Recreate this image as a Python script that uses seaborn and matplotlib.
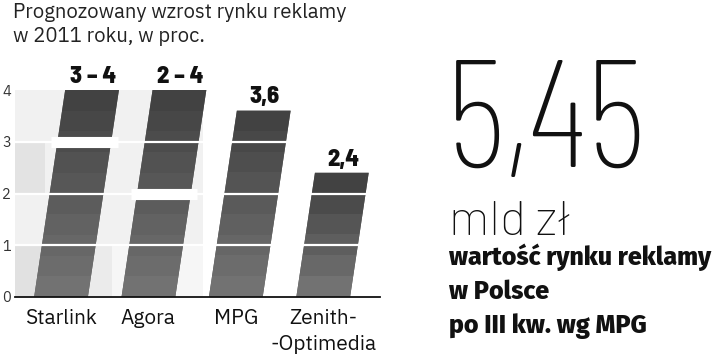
import matplotlib
matplotlib.use("Agg")
import numpy as np
import pandas as pd
import seaborn as sns
import matplotlib.pyplot as plt
from matplotlib.transforms import Affine2D
from matplotlib.patches import Rectangle
from matplotlib.colors import to_rgb

# ---- data ----
categories = ["Starlink", "Agora", "MPG", "Zenith-\n-Optimedia"]
upper = [4.0, 4.0, 3.6, 2.4]
lower = [3.0, 2.0, None, None]
value_labels = ["3 – 4", "2 – 4", "3,6", "2,4"]
yticks = [0, 1, 2, 3, 4]
title = "Prognozowany wzrost rynku reklamy\nw 2011 roku, w proc."
big_number = "5,45"
unit = "mld zł"
caption = "wartość rynku reklamy\nw Polsce\npo III kw. wg MPG"

sns.set_theme(style="white")
LIGHT = ["IBM Plex Sans", "Roboto", "DejaVu Sans"]
COND = ["Barlow Semi Condensed", "Barlow Condensed", "DejaVu Sans"]
THIN = ["Barlow Condensed", "Barlow Semi Condensed", "DejaVu Sans"]
UNITF = ["Barlow", "Barlow Semi Condensed", "DejaVu Sans"]
BOLD = ["Fira Sans", "Open Sans", "DejaVu Sans"]
plt.rcParams["font.family"] = LIGHT

W, H = 720, 356
fig = plt.figure(figsize=(W / 100, H / 100), dpi=100)
fig.patch.set_facecolor("white")

# axes placement (pixels)
ax_l, ax_r, ax_b, ax_t = 15, 380, 297, 90
ax = fig.add_axes([ax_l / W, (H - ax_b) / H, (ax_r - ax_l) / W, (ax_b - ax_t) / H])
ax.set_facecolor("none")

# px -> data x mapping: category spacing ~87.4 px, first center at 61 px
sp, c0 = 87.4, 61
to_dx = lambda px: (px - c0) / sp

df = pd.DataFrame({"firma": categories, "wzrost": upper})
bw = 0.615
sns.barplot(data=df, x="firma", y="wzrost", color="#5a5a5a", width=bw,
            ax=ax, zorder=2, saturation=1)
ax.set_xlim(to_dx(ax_l), to_dx(ax_r))
ax.set_ylim(0, 4)

# shear transform (display space) about the baseline
y0 = ax.transData.transform((0, 0))[1]
k = 0.15
shear = Affine2D().translate(0, -y0).skew(np.arctan(k), 0).translate(0, y0)
skewT = ax.transData + shear

# background decorative panels
bg = [
    (15, 203, 1, 4, "#f1f1f1"),
    (15, 112, 0, 1, "#ebebeb"),
    (112, 203, 0, 1, "#f6f6f6"),
    (15, 45, 2, 3, "#e3e3e3"),
    (15, 45, 0, 1, "#e1e1e1"),
]
for x1, x2, yb, yt, colr in bg:
    ax.add_patch(Rectangle((to_dx(x1), yb), to_dx(x2) - to_dx(x1), yt - yb,
                           facecolor=colr, edgecolor="none", zorder=0.5))

dark = np.array(to_rgb("#424242"))
light = np.array(to_rgb("#727272"))
bars = list(ax.containers[0])
for i, p in enumerate(bars):
    p.set_transform(skewT)
    p.set_edgecolor("none")
    top = p.get_height()
    n = max(2, int(round(top / 0.42)))
    t = np.linspace(0, 1, n)
    arr = (dark[None, :] * (1 - t[:, None]) + light[None, :] * t[:, None])[:, None, :]
    x = p.get_x()
    im = ax.imshow(arr, extent=[x - 0.2, x + p.get_width() + 0.6, 0, top],
                   aspect="auto", interpolation="nearest", zorder=2.1)
    im.set_clip_path(p.get_path(), p.get_transform())

ax.set_xlim(to_dx(ax_l), to_dx(ax_r))
ax.set_ylim(0, 4)

# white gridlines on top of bars
for yv in yticks[1:-1]:
    ax.axhline(yv, color="white", lw=1.6, zorder=3)

# range markers (lower bound)
ext = 6.5 / sp
for i, lo in enumerate(lower):
    if lo is not None:
        ax.plot([i - bw / 2 - ext, i + bw / 2 + ext], [lo, lo], color="white",
                lw=8, solid_capstyle="butt", transform=skewT, zorder=4)

# value labels
for i, (top, lab) in enumerate(zip(upper, value_labels)):
    ax.text(i, top + 0.14, lab, transform=skewT, ha="center", va="baseline",
            fontsize=17.5, fontweight=800, family=COND, color="#111111",
            clip_on=False, zorder=5)

# axes styling
for s in ["left", "right", "top"]:
    ax.spines[s].set_visible(False)
ax.spines["bottom"].set_color("#111111")
ax.spines["bottom"].set_linewidth(1.3)
ax.spines["bottom"].set_zorder(6)
ax.set_yticks(yticks)
ax.set_yticklabels([str(v) for v in yticks], fontsize=10.5, color="#333333",
                   fontweight="light")
ax.tick_params(axis="y", length=0, pad=3)
ax.tick_params(axis="x", length=0, pad=9)
ax.set_xticks(range(len(categories)))
ax.set_xticklabels(categories, fontsize=15, color="#111111", linespacing=1.45)
ax.set_xlabel("")
ax.set_ylabel("")

# title
fig.text(13 / W, 1 - 3 / H, title, ha="left", va="top", fontsize=14.6,
         fontweight="light", color="#222222", linespacing=1.35)

# right panel
fig.text(446 / W, 1 - 167 / H, big_number, ha="left", va="baseline",
         fontsize=110, fontweight=100, family=THIN, color="#111111")
fig.text(449 / W, 1 - 235 / H, unit, ha="left", va="baseline",
         fontsize=35, fontweight=200, family=UNITF, color="#111111")
fig.text(449 / W, 1 - 333 / H, caption, ha="left", va="baseline",
         fontsize=18, fontweight=800, family=BOLD, color="#111111",
         linespacing=1.45)

fig.savefig("out.png", dpi=100, facecolor="white")
